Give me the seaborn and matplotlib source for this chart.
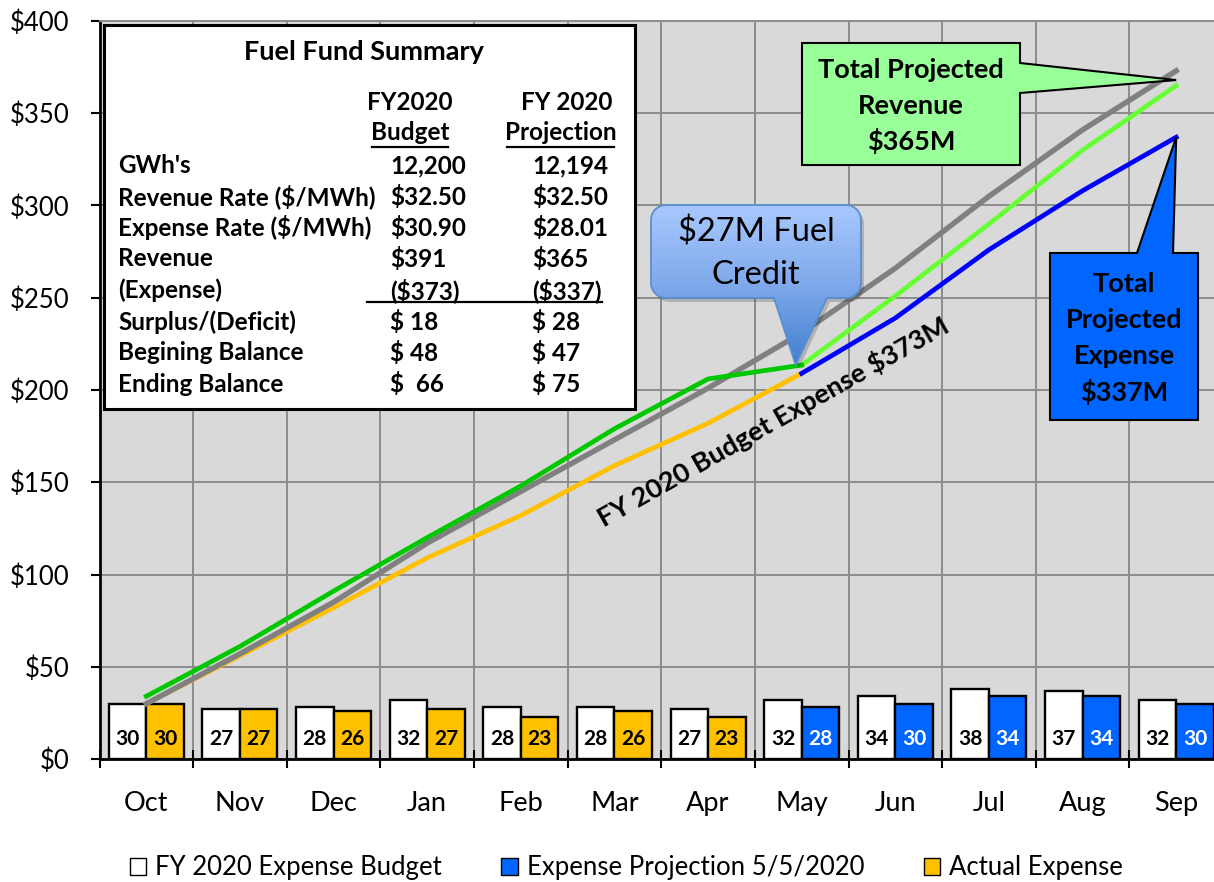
import numpy as np
import pandas as pd
import matplotlib
matplotlib.use("Agg")
import matplotlib.pyplot as plt
import seaborn as sns
from matplotlib.patches import Polygon, Rectangle, Patch
from matplotlib.colors import LinearSegmentedColormap

# ---------------- data ----------------
months = ["Oct", "Nov", "Dec", "Jan", "Feb", "Mar", "Apr", "May", "Jun", "Jul", "Aug", "Sep"]
budget_monthly = [30, 27, 28, 32, 28, 28, 27, 32, 34, 38, 37, 32]
actual_monthly = [30, 27, 26, 27, 23, 26, 23]          # Oct - Apr
projected_monthly = [28, 30, 34, 34, 30]               # May - Sep

budget_cum = [30, 57, 85, 117, 145, 173, 201, 231, 266, 305, 341, 373]
revenue_actual_cum = [34, 61, 91, 120, 148, 179, 206, 213.5]     # Oct - May
revenue_proj_cum = [213.5, 251, 290, 330, 365]                   # May - Sep
expense_actual_cum = [30, 56, 82, 109, 132, 159, 182, 209]       # Oct - May
expense_proj_cum = [209, 239, 276, 308, 337]                     # May - Sep

y_ticks = [0, 50, 100, 150, 200, 250, 300, 350, 400]
y_tick_labels = ["$0", "$50", "$100", "$150", "$200", "$250", "$300", "$350", "$400"]
legend_labels = ["FY 2020 Expense Budget", "Expense Projection 5/5/2020", "Actual Expense"]

table_title = "Fuel Fund Summary"
table_head1 = ["FY2020", "FY 2020"]
table_head2 = ["Budget", "Projection"]
table_rows = ["GWh's", "Revenue Rate ($/MWh)", "Expense Rate ($/MWh)", "Revenue",
              "(Expense)", "Surplus/(Deficit)", "Begining Balance", "Ending Balance"]
table_budget = ["12,200", "$32.50", "$30.90", "$391", "($373)", "$ 18", "$ 48", "$  66"]
table_proj = ["12,194", "$32.50", "$28.01", "$365", "($337)", "$ 28", "$ 47", "$ 75"]

# ---------------- style ----------------
WHITE = "#ffffff"
ORANGE = "#ffc000"
BLUE_BAR = "#0066ff"
GRAY_LINE = "#808080"
GREEN = "#00c800"
LIGHT_GREEN = "#66ff33"
BLUE_LINE = "#0000ff"
PLOT_BG = "#d9d9d9"
GRID = "#8c8c8c"

plt.rcParams["font.family"] = ["Lato", "DejaVu Sans"]

W, H = 1214, 882
fig = plt.figure(figsize=(W / 100, H / 100), dpi=100)
fig.patch.set_facecolor("white")

ax_left, ax_right, ax_top, ax_bottom = 99.5, 1223.0, 21.0, 759.0
ax = fig.add_axes([ax_left / W, (H - ax_bottom) / H, (ax_right - ax_left) / W, (ax_bottom - ax_top) / H])
ax.set_facecolor(PLOT_BG)

# ---------------- bars ----------------
pos = list(range(len(months)))
df = pd.DataFrame({
    "pos": pos + pos,
    "series": ["Budget"] * len(months) + ["Actual"] * len(months),
    "value": budget_monthly + actual_monthly + projected_monthly,
})
sns.barplot(data=df, x="pos", y="value", hue="series", hue_order=["Budget", "Actual"],
            palette={"Budget": WHITE, "Actual": ORANGE}, saturation=1, native_scale=True,
            width=0.8, gap=0, edgecolor="black", linewidth=1.7, legend=False, ax=ax, zorder=2)

n_act = len(actual_monthly)
for i, bar in enumerate(ax.containers[1]):
    if i >= n_act:
        bar.set_facecolor(BLUE_BAR)

second_vals = actual_monthly + projected_monthly
for i, bar in enumerate(ax.containers[0]):
    ax.text(bar.get_x() + bar.get_width() / 2, 11, str(budget_monthly[i]), ha="center", va="center",
            fontsize=15, fontweight="bold", color="black", zorder=4)
for i, bar in enumerate(ax.containers[1]):
    ax.text(bar.get_x() + bar.get_width() / 2, 11, str(second_vals[i]), ha="center", va="center",
            fontsize=15, fontweight="bold", color="black" if i < n_act else "white", zorder=4)

# ---------------- lines ----------------
lw = 3.4
sns.lineplot(x=pos[:8], y=expense_actual_cum, color=ORANGE, lw=lw, ax=ax, zorder=5)
sns.lineplot(x=pos[7:], y=expense_proj_cum, color=BLUE_LINE, lw=lw, ax=ax, zorder=5)
sns.lineplot(x=pos, y=budget_cum, color=GRAY_LINE, lw=3.9, ax=ax, zorder=6)
sns.lineplot(x=pos[7:], y=revenue_proj_cum, color=LIGHT_GREEN, lw=lw, ax=ax, zorder=7)
sns.lineplot(x=pos[:8], y=revenue_actual_cum, color=GREEN, lw=lw, ax=ax, zorder=7)

# ---------------- axes ----------------
ax.set_xlim(-0.5, 11.5)
ax.set_ylim(0, 400)
ax.set_xlabel("")
ax.set_ylabel("")
ax.set_xticks(pos)
ax.set_xticklabels(months, fontsize=19.5)
ax.set_xticks(np.arange(-0.5, 12.0, 1.0), minor=True)
ax.set_yticks(y_ticks)
ax.set_yticklabels(y_tick_labels, fontsize=18.5)
ax.tick_params(axis="x", which="major", length=0, pad=23)
ax.tick_params(axis="x", which="minor", direction="inout", length=13, width=1.5, color="black")
ax.tick_params(axis="y", which="major", direction="out", length=6.5, width=1.5, color="black", pad=15)
ax.grid(axis="y", which="major", color=GRID, lw=1.4)
ax.grid(axis="x", which="minor", color=GRID, lw=1.4)
ax.grid(axis="x", which="major", visible=False)
ax.set_axisbelow(True)
for s in ["left", "bottom"]:
    ax.spines[s].set_color("black")
    ax.spines[s].set_linewidth(2)
ax.spines["top"].set_color(GRID)
ax.spines["top"].set_linewidth(1.4)
ax.spines["right"].set_visible(False)

# rotated annotation
ax.text(6.7, 183, "FY 2020 Budget Expense $373M", rotation=29.5, rotation_mode="anchor",
        ha="center", va="center", fontsize=19.5, fontweight="bold", color="black", zorder=8)

# ---------------- overlay (pixel coords) ----------------
ov = fig.add_axes([0, 0, 1, 1], zorder=10)
ov.set_xlim(0, W)
ov.set_ylim(H, 0)
ov.axis("off")
ov.patch.set_alpha(0)


def to_px(x, y):
    px, py = ax.transData.transform((x, y))
    return px, H - py


# summary table
ov.add_patch(Rectangle((104, 25), 531, 384, facecolor="white", edgecolor="black", lw=2.2))
tfs = 17.5
ov.text(364, 52, table_title, ha="center", va="center", fontsize=19.5, fontweight="bold")
ov.text(410, 103, table_head1[0], ha="center", va="center", fontsize=tfs, fontweight="bold")
ov.text(567, 103, table_head1[1], ha="center", va="center", fontsize=tfs, fontweight="bold")
ov.text(410, 133, table_head2[0], ha="center", va="center", fontsize=tfs, fontweight="bold")
ov.text(561, 133, table_head2[1], ha="center", va="center", fontsize=tfs, fontweight="bold")
ov.plot([372, 448], [147, 147], color="black", lw=1.6)
ov.plot([507, 614], [147, 147], color="black", lw=1.6)
row_y = [165.5, 196.5, 228, 259, 290.5, 322, 353, 384]
for yy, lab, b, p in zip(row_y, table_rows, table_budget, table_proj):
    ov.text(118, yy, lab, ha="left", va="center", fontsize=tfs, fontweight="bold")
    ov.text(390, yy, b, ha="left", va="center", fontsize=tfs, fontweight="bold")
    ov.text(532, yy, p, ha="left", va="center", fontsize=tfs, fontweight="bold")
ov.plot([367, 602], [302, 302], color="black", lw=1.6)


# fuel credit callout (rounded box with pointer, gradient fill)
def arc(cx, cy, r, t0, t1, n=12):
    t = np.radians(np.linspace(t0, t1, n))
    return np.column_stack([cx + r * np.cos(t), cy + r * np.sin(t)])


bx0, by0, bx1, by1, r = 651, 205, 861, 298, 15
tipx, tipy = to_px(7, 213.5)
tipx -= 6
verts = np.vstack([
    [[bx0 + r, by0]],
    arc(bx1 - r, by0 + r, r, -90, 0),
    arc(bx1 - r, by1 - r, r, 0, 90),
    [[827, by1], [tipx, tipy], [774, by1]],
    arc(bx0 + r, by1 - r, r, 90, 180),
    arc(bx0 + r, by0 + r, r, 180, 270),
])
ov.add_patch(Polygon(verts + np.array([3, 4]), closed=True, facecolor="black", alpha=0.18, lw=0))
cpatch = Polygon(verts, closed=True, facecolor="none", edgecolor="#5a8ed0", lw=1.3)
ov.add_patch(cpatch)
cmap = LinearSegmentedColormap.from_list("callout", ["#a9c9ff", "#7fa9ea", "#3f7fcf"])
grad = np.linspace(0, 1, 256).reshape(-1, 1)
im = ov.imshow(grad, cmap=cmap, extent=(bx0, bx1, tipy, by0), aspect="auto", origin="upper",
               interpolation="bilinear", zorder=1)
im.set_clip_path(cpatch)
cpatch.set_zorder(2)
ov.text(756, 232, "$27M Fuel", ha="center", va="center", fontsize=23.5, color="black", zorder=3)
ov.text(756, 275, "Credit", ha="center", va="center", fontsize=23.5, color="black", zorder=3)

# green revenue callout
gtx, gty = to_px(11, 368)
gverts = [[802, 43], [1020, 43], [1020, 63], [gtx, gty], [1020, 93], [1020, 165], [802, 165]]
ov.add_patch(Polygon(gverts, closed=True, facecolor="#99ff99", edgecolor="black", lw=1.5, zorder=2))
for yy, s in zip([70, 106.5, 141.5], ["Total Projected", "Revenue", "$365M"]):
    ov.text(911, yy, s, ha="center", va="center", fontsize=19.5, fontweight="bold", zorder=3)

# blue expense callout
etx, ety = to_px(11, 337)
bverts = [[1050, 253], [1137, 253], [etx, ety], [1173, 253], [1198, 253], [1198, 420], [1050, 420]]
ov.add_patch(Polygon(bverts, closed=True, facecolor=BLUE_BAR, edgecolor="black", lw=1.5, zorder=2))
for yy, s in zip([284, 320, 356, 392], ["Total", "Projected", "Expense", "$337M"]):
    ov.text(1124, yy, s, ha="center", va="center", fontsize=19.5, fontweight="bold", zorder=3)

# ---------------- legend ----------------
handles = [Patch(facecolor=WHITE, edgecolor="black"),
           Patch(facecolor=BLUE_BAR, edgecolor="black"),
           Patch(facecolor=ORANGE, edgecolor="black")]
fig.legend(handles=handles, labels=legend_labels, ncol=3, loc="center",
           bbox_to_anchor=(626.5 / W, 1 - 868 / H), frameon=False, fontsize=18.5,
           handlelength=0.65, handleheight=0.65, handletextpad=0.35, columnspacing=2.3)

fig.savefig("out.png", dpi=100, facecolor="white")
